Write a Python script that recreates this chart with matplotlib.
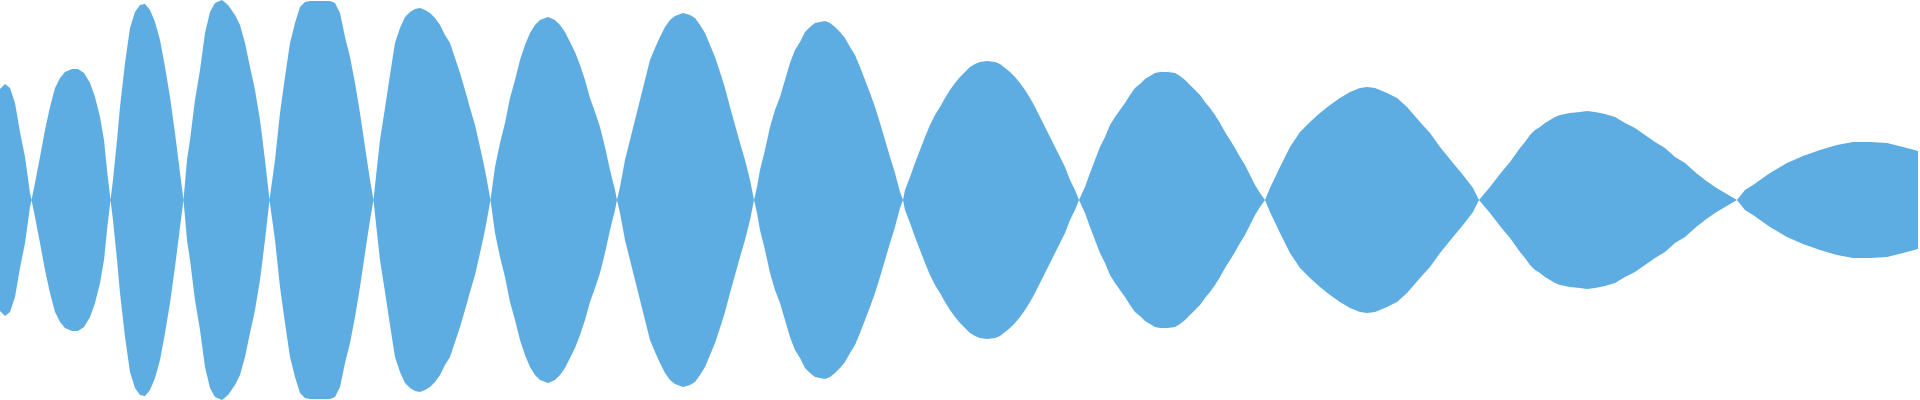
import matplotlib.pyplot as plt
import numpy as np

# envelope of the waveform (sample position, amplitude)
sample_pos = [
    0, 5, 10, 15, 20, 25, 30, 31.5,
    35, 40, 45, 50, 55, 60, 65, 72, 78, 84, 90, 95, 100, 104, 107, 110.5,
    113, 117, 120, 125, 130, 135, 140, 145, 150, 155, 160, 165, 170, 175, 180, 183.5,
    187, 190, 195, 200, 205, 210, 215, 222, 228, 235, 240, 245, 250, 255, 260, 265, 269.5,
    275, 280, 285, 290, 295, 300, 305, 310, 330, 335, 340, 345, 350, 355, 360, 365, 370, 373.5,
    377, 380, 385, 390, 395, 400, 405, 410, 415, 420, 425, 430, 435, 440, 445, 450, 455, 460,
    465, 470, 475, 480, 485, 490.5,
    495, 500, 505, 510, 515, 520, 525, 530, 535, 540, 548, 555, 560, 565, 570, 575, 580, 585,
    590, 595, 600, 605, 610, 615, 617,
    620, 625, 630, 635, 640, 645, 650, 655, 660, 665, 670, 675, 683, 690, 695, 700, 705, 710,
    715, 720, 725, 730, 735, 740, 745, 750, 754,
    757, 760, 765, 770, 775, 780, 785, 790, 795, 800, 805, 810, 815, 820, 825, 830, 835, 840,
    845, 850, 855, 860, 865, 870, 875, 880, 885, 890, 895, 900, 903,
    905, 910, 915, 920, 925, 930, 935, 940, 945, 950, 955, 960, 965, 970, 975, 980, 987, 995,
    1000, 1005, 1010, 1015, 1020, 1025, 1030, 1035, 1040, 1045, 1050, 1055, 1060, 1065, 1070,
    1075, 1079,
    1085, 1090, 1095, 1100, 1105, 1110, 1115, 1120, 1125, 1130, 1135, 1140, 1145, 1150, 1155,
    1160, 1168, 1175, 1180, 1185, 1190, 1195, 1200, 1205, 1210, 1215, 1220, 1225, 1230, 1235,
    1240, 1245, 1250, 1255, 1260, 1265,
    1270, 1280, 1290, 1300, 1310, 1320, 1330, 1340, 1350, 1360, 1367, 1375, 1387, 1397, 1407,
    1420, 1430, 1440, 1453, 1463, 1473, 1479,
    1490, 1500, 1510, 1520, 1525, 1530, 1535, 1540, 1545, 1550, 1555, 1560, 1570, 1580, 1587,
    1595, 1605, 1615, 1625, 1635, 1645, 1655, 1665, 1675, 1685, 1695, 1705, 1715, 1725, 1737,
    1745, 1753, 1770, 1787, 1803, 1820, 1837, 1853, 1870, 1887, 1903, 1918,
]
envelope = [
    111, 116, 112, 97, 68, 43, 7, 0,
    17, 43, 70, 93, 112, 122, 128, 131, 131, 127, 117, 103, 83, 60, 30, 0,
    20, 60, 93, 137, 172, 188, 195, 196, 190, 178, 160, 133, 103, 67, 27, 0,
    40, 60, 100, 130, 167, 188, 197, 200, 195, 185, 175, 157, 133, 110, 80, 40, 0,
    40, 87, 123, 157, 177, 193, 198, 199, 199, 197, 187, 163, 143, 117, 87, 53, 20, 0,
    33, 60, 92, 125, 157, 172, 183, 188, 191, 192, 190, 187, 182, 175, 165, 157, 142, 127,
    110, 92, 75, 53, 30, 0,
    33, 57, 77, 102, 120, 140, 155, 167, 175, 180, 183, 180, 175, 168, 158, 148, 135, 120,
    102, 88, 73, 53, 30, 10, 0,
    13, 40, 60, 80, 100, 120, 140, 152, 163, 173, 180, 184, 187, 185, 182, 175, 167, 155,
    143, 128, 112, 93, 75, 57, 40, 20, 0,
    13, 30, 50, 73, 90, 103, 120, 137, 150, 158, 168, 173, 177, 178, 179, 177, 173, 168,
    162, 153, 145, 133, 120, 107, 93, 77, 60, 43, 27, 8, 0,
    10, 23, 37, 50, 63, 75, 85, 93, 102, 110, 117, 123, 128, 133, 136, 138, 139, 138,
    136, 132, 128, 123, 117, 110, 102, 93, 83, 73, 63, 53, 43, 33, 20,
    10, 0,
    13, 27, 40, 53, 63, 75, 83, 90, 97, 105, 112, 116, 121, 124, 127,
    128, 128, 127, 124, 120, 115, 110, 105, 98, 92, 85, 77, 68, 60, 52,
    43, 35, 25, 15, 7, 0,
    12, 33, 53, 68, 78, 87, 95, 102, 108, 112, 113, 112, 107, 102, 93,
    78, 67, 53, 37, 25, 12, 0,
    13, 26, 38, 52, 58, 65, 70, 73, 77, 80, 83, 85, 87, 88, 89,
    88, 86, 83, 77, 72, 65, 58, 52, 43, 37, 28, 20, 13, 7, 0,
    10, 15, 27, 37, 44, 50, 55, 58, 58, 57, 53, 49,
]

fill_color = '#5dade2'

x = np.array(sample_pos)
amp = np.array(envelope)

fig = plt.figure(figsize=(19.2, 4), dpi=100)
ax = fig.add_axes([0, 0, 1, 1])
ax.fill_between(x, amp, -amp, color=fill_color, linewidth=0)
ax.set_xlim(0, 1920)
ax.set_ylim(-200, 200)
ax.axis('off')
fig.savefig('out.png', dpi=100, facecolor='white')
